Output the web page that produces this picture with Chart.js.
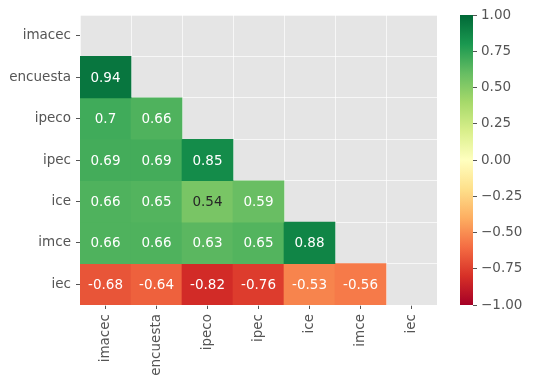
<!DOCTYPE html>
<html>
<head>
<meta charset="utf-8">
<script src="https://cdn.jsdelivr.net/npm/chart.js@4"></script>
<style>
  body { margin: 0; background: #fff; }
  #wrap { position: relative; width: 534px; height: 385px; }
  #graph { position: absolute; left: 0; top: 0; }
  #cbar { position: absolute; left: 455px; top: 0; }
</style>
</head>
<body>
<div id="wrap">
  <canvas id="graph" width="534" height="385"></canvas>
  <canvas id="cbar" width="79" height="385"></canvas>
</div>
<script>
// variables, in row / column order
var labels = ['imacec', 'encuesta', 'ipeco', 'ipec', 'ice', 'imce', 'iec'];

// lower triangle of the correlation matrix, one array per row
var imacec = [];
var encuesta = [0.94];
var ipeco = [0.70, 0.66];
var ipec = [0.69, 0.69, 0.85];
var ice = [0.66, 0.65, 0.54, 0.59];
var imce = [0.66, 0.66, 0.63, 0.65, 0.88];
var iec = [-0.68, -0.64, -0.82, -0.76, -0.53, -0.56];
var corr = [imacec, encuesta, ipeco, ipec, ice, imce, iec];

var cbTicks = [-1, -0.75, -0.5, -0.25, 0, 0.25, 0.5, 0.75, 1];

// RdYlGn colormap
var rdylgn = ['#a50026', '#d73027', '#f46d43', '#fdae61', '#fee08b', '#ffffbf',
  '#d9ef8b', '#a6d96a', '#66bd63', '#1a9850', '#006837'];

var FONT_SIZE = 13.5;
Chart.defaults.font.family = 'DejaVu Sans';
Chart.defaults.font.size = FONT_SIZE;
Chart.defaults.color = '#555555';

function hexRgb(h) {
  return [parseInt(h.substr(1, 2), 16), parseInt(h.substr(3, 2), 16), parseInt(h.substr(5, 2), 16)];
}

function cmap(v) {
  var t = (v + 1) / 2 * (rdylgn.length - 1);
  var i = Math.min(Math.floor(t), rdylgn.length - 2);
  var f = t - i;
  var a = hexRgb(rdylgn[i]), b = hexRgb(rdylgn[i + 1]);
  return [0, 1, 2].map(function(k) { return Math.round(a[k] + (b[k] - a[k]) * f); });
}

function luminance(rgb) {
  var l = rgb.map(function(c) {
    c = c / 255;
    return c <= 0.03928 ? c / 12.92 : Math.pow((c + 0.055) / 1.055, 2.4);
  });
  return 0.2126 * l[0] + 0.7152 * l[1] + 0.0722 * l[2];
}

function rgbStr(rgb) {
  return 'rgb(' + rgb.join(',') + ')';
}

var datasets = corr.map(function(row, r) {
  return {
    label: labels[r],
    data: labels.map(function(_, c) { return c < row.length ? [r - 0.5, r + 0.5] : null; }),
    backgroundColor: labels.map(function(_, c) { return c < row.length ? rgbStr(cmap(row[c])) : 'rgba(0,0,0,0)'; }),
    borderWidth: 0,
    grouped: false,
    barPercentage: 1,
    categoryPercentage: 1
  };
});

var background = {
  id: 'background',
  beforeDraw: function(chart) {
    var a = chart.chartArea, ctx = chart.ctx;
    ctx.save();
    ctx.fillStyle = '#e5e5e5';
    ctx.fillRect(a.left, a.top, a.right - a.left, a.bottom - a.top);
    ctx.restore();
  }
};

var annotate = {
  id: 'annotate',
  afterDatasetsDraw: function(chart) {
    var ctx = chart.ctx;
    ctx.save();
    ctx.font = FONT_SIZE + 'px "DejaVu Sans"';
    ctx.textAlign = 'center';
    ctx.textBaseline = 'middle';
    corr.forEach(function(row, r) {
      var meta = chart.getDatasetMeta(r);
      row.forEach(function(v, c) {
        var bar = meta.data[c];
        ctx.fillStyle = luminance(cmap(v)) > 0.408 ? '#262626' : '#ffffff';
        ctx.fillText(String(parseFloat(v.toPrecision(2))), bar.x, (bar.y + bar.base) / 2 + 1);
      });
    });
    ctx.restore();
  }
};

var chart = new Chart(document.querySelector('#graph').getContext('2d'), {
  type: 'bar',
  data: { labels: labels, datasets: datasets },
  plugins: [background, annotate],
  options: {
    responsive: false,
    animation: false,
    layout: { padding: { left: 0, right: 97, top: 15, bottom: 0 } },
    plugins: { legend: { display: false }, tooltip: { enabled: false } },
    scales: {
      x: {
        type: 'category',
        offset: true,
        grid: { offset: false, drawOnChartArea: false, tickLength: 4, tickColor: '#555555' },
        border: { display: false },
        ticks: { minRotation: 90, maxRotation: 90, padding: 5 },
        afterFit: function(s) { s.height = 80; }
      },
      xg: {
        type: 'category',
        position: 'top',
        offset: true,
        z: 1,
        grid: { offset: true, color: 'rgba(255,255,255,0.7)', drawTicks: false },
        border: { display: false },
        ticks: { display: false },
        afterFit: function(s) { s.height = 0; }
      },
      y: {
        type: 'linear',
        min: -0.5,
        max: 6.5,
        reverse: true,
        afterBuildTicks: function(s) { s.ticks = labels.map(function(_, i) { return { value: i }; }); },
        ticks: { padding: 5, callback: function(v) { return labels[v]; } },
        grid: { drawOnChartArea: false, tickLength: 4, tickColor: '#555555' },
        border: { display: false },
        afterFit: function(s) { s.width = 80; }
      },
      yg: {
        type: 'linear',
        position: 'right',
        min: -0.5,
        max: 6.5,
        reverse: true,
        z: 1,
        afterBuildTicks: function(s) {
          s.ticks = labels.concat(['']).map(function(_, i) { return { value: i - 0.5 }; });
        },
        grid: { color: 'rgba(255,255,255,0.7)', drawTicks: false },
        border: { display: false },
        ticks: { display: false },
        afterFit: function(s) { s.width = 0; }
      }
    }
  }
});

// colour bar
var cbar = new Chart(document.querySelector('#cbar').getContext('2d'), {
  type: 'bar',
  data: {
    labels: [''],
    datasets: [{
      data: [[cbTicks[0], cbTicks[cbTicks.length - 1]]],
      borderWidth: 0,
      barPercentage: 1,
      categoryPercentage: 1,
      backgroundColor: function(ctx) {
        var a = ctx.chart.chartArea;
        if (!a) return '#ffffbf';
        var g = ctx.chart.ctx.createLinearGradient(0, a.bottom, 0, a.top);
        rdylgn.forEach(function(c, i) { g.addColorStop(i / (rdylgn.length - 1), c); });
        return g;
      }
    }]
  },
  options: {
    responsive: false,
    animation: false,
    layout: { padding: { left: 5, right: 0, top: 15, bottom: 80 } },
    plugins: { legend: { display: false }, tooltip: { enabled: false } },
    scales: {
      x: { display: false },
      y: {
        position: 'right',
        min: -1,
        max: 1,
        afterBuildTicks: function(s) { s.ticks = cbTicks.map(function(v) { return { value: v }; }); },
        ticks: {
          padding: 4,
          callback: function(v) { return (v < 0 ? '\u2212' : '') + Math.abs(v).toFixed(2); }
        },
        grid: { drawOnChartArea: false, tickLength: 4, tickColor: '#555555' },
        border: { display: false },
        afterFit: function(s) { s.width = 61; }
      }
    }
  }
});
</script>
</body>
</html>
